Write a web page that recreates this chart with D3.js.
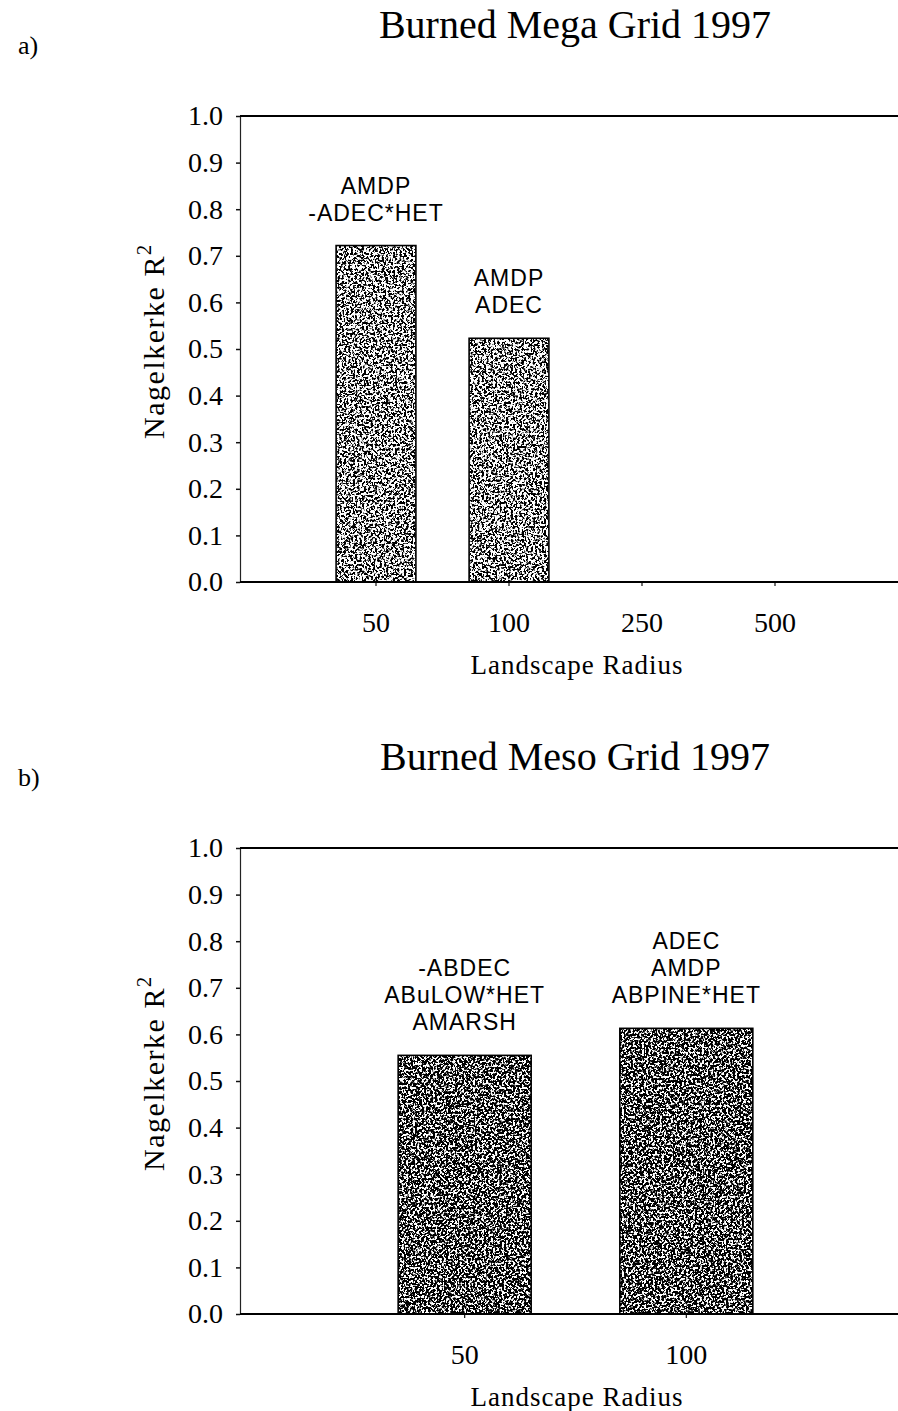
<!DOCTYPE html>
<html>
<head>
<meta charset="utf-8">
<script src="https://cdn.jsdelivr.net/npm/d3@7"></script>
<style>
  body { margin: 0; background: #fff; }
  svg { display: block; }
</style>
</head>
<body>
<script>
// panel a) Burned Mega Grid 1997
var megaRadius = ['50', '100', '250', '500']
var megaR2 = [0.722, 0.523, null, null]
var megaModels = [['AMDP', '-ADEC*HET'], ['AMDP', 'ADEC'], [], []]

// panel b) Burned Meso Grid 1997
var mesoRadius = ['50', '100']
var mesoR2 = [0.555, 0.613]
var mesoModels = [['-ABDEC', 'ABuLOW*HET', 'AMARSH'], ['ADEC', 'AMDP', 'ABPINE*HET']]

var yTicks = [0.0, 0.1, 0.2, 0.3, 0.4, 0.5, 0.6, 0.7, 0.8, 0.9, 1.0]

var w = 898
var h = 1411
var serif = '"Liberation Serif", "Times New Roman", serif'
var sans = '"Liberation Sans", Arial, sans-serif'

var svg = d3.select('body') //creates the canvas
  .append('svg')
  .attr('width', w)
  .attr('height', h)

// speckled fill like the scanned bars
var defs = svg.append('defs')
function grain(id, cut, seed) {
  var f = defs.append('filter').attr('id', id)
    .attr('x', 0).attr('y', 0).attr('width', 1).attr('height', 1)
  f.append('feTurbulence').attr('type', 'fractalNoise')
    .attr('baseFrequency', 0.45).attr('numOctaves', 3).attr('seed', seed).attr('result', 'noise')
  f.append('feColorMatrix').attr('in', 'noise').attr('type', 'matrix')
    .attr('values', '0 0 0 0 0  0 0 0 0 0  0 0 0 0 0  12 0 0 0 ' + cut).attr('result', 'dots')
  f.append('feComposite').attr('in', 'dots').attr('in2', 'SourceAlpha').attr('operator', 'in')
}
grain('grainA', -5.7, 4)
grain('grainB', -5.1, 9)

function panel(cfg) {
  var g = svg.append('g').attr('transform', 'translate(0,' + cfg.dy + ')')
  var left = 240

  var x = d3.scaleBand()
    .domain(cfg.cats)
    .range([243, 908])
    .paddingInner(0.4)
    .paddingOuter(0.7)

  var y = d3.scaleLinear()
    .domain([0, 1])
    .range([582, 116])

  // letter + title
  g.append('text').text(cfg.letter)
    .attr('x', 18).attr('y', 54)
    .attr('font-family', serif).attr('font-size', '26px')
  g.append('text').text(cfg.title)
    .attr('x', 575).attr('y', 38)
    .attr('text-anchor', 'middle')
    .attr('font-family', serif).attr('font-size', '40px')

  // y axis
  var yAxis = d3.axisLeft(y)
    .tickValues(yTicks)
    .tickFormat(d3.format('.1f'))
    .tickSize(4)
    .tickPadding(13)
  var ya = g.append('g').attr('transform', 'translate(' + left + ',0)').call(yAxis)
  ya.select('.domain').attr('stroke', '#222').attr('stroke-width', 1.2)
  ya.selectAll('.tick line').attr('stroke', '#111').attr('stroke-width', 1.5)
  ya.selectAll('.tick text')
    .attr('font-family', serif).attr('font-size', '28px').attr('fill', '#000')

  // frame top
  g.append('line')
    .attr('x1', left).attr('x2', w).attr('y1', y(1)).attr('y2', y(1))
    .attr('stroke', '#000').attr('stroke-width', 2)

  // bars
  var data = cfg.cats.map(function(c, i) {
    return { cat: c, v: cfg.vals[i], lines: cfg.models[i] }
  }).filter(function(d) { return d.v != null })

  g.selectAll('rect.bg')
    .data(data).enter().append('rect')
    .attr('x', function(d) { return x(d.cat) })
    .attr('y', function(d) { return y(d.v) })
    .attr('width', x.bandwidth())
    .attr('height', function(d) { return y(0) - y(d.v) })
    .attr('fill', '#fff')
  g.selectAll('rect.dots')
    .data(data).enter().append('rect')
    .attr('x', function(d) { return x(d.cat) })
    .attr('y', function(d) { return y(d.v) })
    .attr('width', x.bandwidth())
    .attr('height', function(d) { return y(0) - y(d.v) })
    .attr('fill', '#000')
    .attr('filter', 'url(#' + cfg.grain + ')')
  g.selectAll('rect.edge')
    .data(data).enter().append('rect')
    .attr('x', function(d) { return x(d.cat) })
    .attr('y', function(d) { return y(d.v) })
    .attr('width', x.bandwidth())
    .attr('height', function(d) { return y(0) - y(d.v) })
    .attr('fill', 'none')
    .attr('stroke', '#000')
    .attr('stroke-width', 1.6)

  // model labels above bars
  data.forEach(function(d) {
    var n = d.lines.length
    d.lines.forEach(function(t, k) {
      g.append('text').text(t)
        .attr('x', x(d.cat) + x.bandwidth() / 2)
        .attr('y', y(d.v) - 25 - (n - 1 - k) * 27)
        .attr('text-anchor', 'middle')
        .attr('font-family', sans).attr('font-size', '23px')
        .attr('letter-spacing', '1px')
    })
  })

  // x axis
  var xAxis = d3.axisBottom(x).tickSize(4).tickPadding(26)
  var xa = g.append('g').attr('transform', 'translate(0,' + y(0) + ')').call(xAxis)
  xa.select('.domain').remove()
  xa.selectAll('.tick line').attr('stroke', '#111').attr('stroke-width', 1.2)
  xa.selectAll('.tick text')
    .attr('font-family', serif).attr('font-size', '28px').attr('fill', '#000')
  g.append('line')
    .attr('x1', left).attr('x2', w).attr('y1', y(0)).attr('y2', y(0))
    .attr('stroke', '#000').attr('stroke-width', 2)

  // axis titles
  g.append('text').text('Landscape Radius')
    .attr('x', 577).attr('y', 674)
    .attr('text-anchor', 'middle')
    .attr('font-family', serif).attr('font-size', '27px')
    .attr('letter-spacing', '1px')
  var yt = g.append('text')
    .attr('transform', 'translate(164,' + (y(0.5) - 8) + ') rotate(-90)')
    .attr('text-anchor', 'middle')
    .attr('font-family', serif).attr('font-size', '30px')
    .attr('letter-spacing', '1.5px')
  yt.append('tspan').text('Nagelkerke R')
  yt.append('tspan').text('2').attr('font-size', '21px').attr('dy', '-13')
}

panel({ dy: 0, letter: 'a)', title: 'Burned Mega Grid 1997', cats: megaRadius, vals: megaR2, models: megaModels, grain: 'grainA' })
panel({ dy: 732, letter: 'b)', title: 'Burned Meso Grid 1997', cats: mesoRadius, vals: mesoR2, models: mesoModels, grain: 'grainB' })
</script>
</body>
</html>
